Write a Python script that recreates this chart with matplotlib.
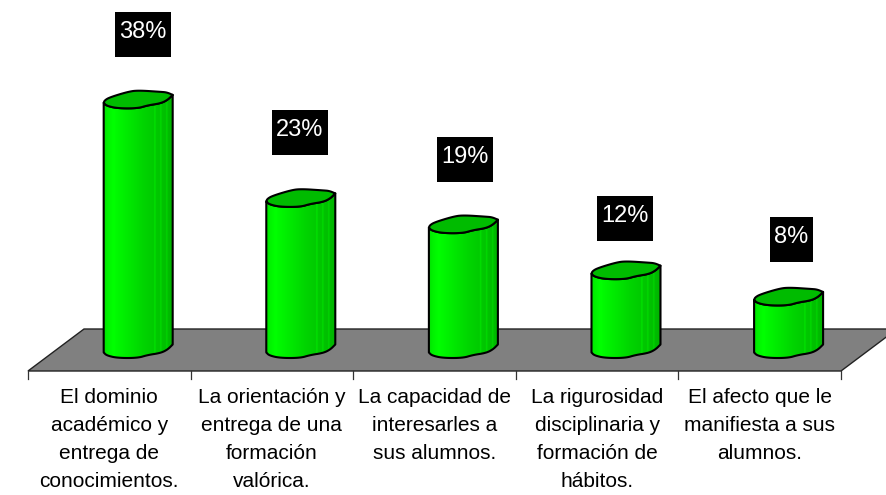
import numpy as np
import matplotlib
matplotlib.use("Agg")
import matplotlib.pyplot as plt
from matplotlib.patches import Polygon, Rectangle

categories = [
    "El dominio\nacadémico y\nentrega de\nconocimientos.",
    "La orientación y\nentrega de una\nformación\nvalórica.",
    "La capacidad de\ninteresarles a\nsus alumnos.",
    "La rigurosidad\ndisciplinaria y\nformación de\nhábitos.",
    "El afecto que le\nmanifiesta a sus\nalumnos.",
]
values = [38, 23, 19, 12, 8]
value_labels = ["38%", "23%", "19%", "12%", "8%"]

W, H = 887, 495
X0, SX = 28.0, 162.6     # pixel position of category 0 edge, px per category
Y0, SY = 352.5, 6.57     # pixel position of value 0, px per percent


def dx(px):
    return px / SX


def dy(px):
    return px / SY


def smooth(x, y, n=3):
    """Corner-cutting so the hand-read outline becomes a soft curve."""
    pts = np.c_[x, y]
    for _ in range(n):
        a, b = pts[:-1], pts[1:]
        mid = np.empty((2 * len(a), 2))
        mid[0::2] = 0.75 * a + 0.25 * b
        mid[1::2] = 0.25 * a + 0.75 * b
        pts = np.vstack([pts[:1], mid, pts[-1:]])
    return pts[:, 0], pts[:, 1]


plt.rcParams["font.family"] = ["Liberation Sans", "DejaVu Sans"]
fig = plt.figure(figsize=(W / 100, H / 100), dpi=100)
ax = fig.add_axes([0, 0, 1, 1])
ax.axis("off")
xlim = ((0 - X0) / SX, (W - X0) / SX)
ylim = ((Y0 - H) / SY, Y0 / SY)

# floor of the 3-D plot
floor_front, floor_back = dy(Y0 - 371), dy(Y0 - 329)
depth = dx(56)
ax.add_patch(Polygon([(0, floor_front), (5, floor_front), (5 + depth, floor_back),
                      (depth, floor_back)], closed=True, fc="#808080", ec="#222222",
                     lw=1.0, zorder=1))
for i in range(6):
    ax.plot([i, i], [floor_front, floor_front - dy(8)], color="#333333", lw=0.9, zorder=1)

# outline of the cylinders, pixel offsets from the left edge of the cap
lower_x, lower_y = smooth(np.array([0, 3, 14, 34, 44, 57, 64, 69.0]),
                          np.array([0, 3, 5.5, 5.5, 2.5, 0.5, -3, -8.0]))
upper_x, upper_y = smooth(np.array([69, 63, 57, 34, 24, 6, 1, 0.0]),
                          np.array([-8, -10.5, -11, -12.5, -11, -5.5, -2.5, 0.0]))

col_px = np.array([0, 3, 9, 12, 25, 40, 52, 62, 69.0])
col_g = np.array([225, 240, 255, 250, 232, 212, 200, 190, 180.0])
tt = np.linspace(0, 69, 139)
gg = np.interp(tt, col_px, col_g)
for stripe in (10, 51, 57, 63):
    gg[np.abs(tt - stripe) < 0.6] += 22
grad = np.zeros((1, tt.size, 3))
grad[0, :, 1] = np.clip(gg, 0, 255) / 255

for i, v in enumerate(values):
    left = i + 0.4655
    xs = left + dx(lower_x)
    body_x = np.r_[xs[0], xs, xs[::-1]]
    body_y = np.r_[v, v - dy(lower_y), -dy(lower_y[::-1])]
    body = Polygon(np.c_[body_x, body_y], closed=True, fc="none", ec="black", lw=1.5,
                   joinstyle="round", zorder=4)
    ax.add_patch(body)
    im = ax.imshow(grad, extent=(left, left + dx(69), -dy(8), v + dy(14)),
                   aspect="auto", zorder=3, interpolation="bilinear")
    im.set_clip_path(body)
    cap_x = left + dx(np.r_[lower_x, upper_x])
    cap_y = v - dy(np.r_[lower_y, upper_y])
    ax.add_patch(Polygon(np.c_[cap_x, cap_y], closed=True, fc="#00bb00", ec="black",
                         lw=1.5, joinstyle="round", zorder=5))

# value labels, positioned from the top of each bar
label_x = [143, 300, 465, 625, 791.5]
label_off = [68.3, 68.9, 68.2, 55.2, 60.5]
box_w = [56, 56, 56, 56, 43]
box_h = 45
for i, (v, t) in enumerate(zip(values, value_labels)):
    cx = (label_x[i] - X0) / SX
    cy = v + dy(label_off[i])
    ax.add_patch(Rectangle((cx - dx(box_w[i]) / 2, cy - dy(box_h) / 2), dx(box_w[i]),
                           dy(box_h), fc="black", ec="none", zorder=6))
    ax.text(cx, cy + dy(2.5), t, color="white", fontsize=17, ha="center", va="center",
            zorder=7)

for i, c in enumerate(categories):
    ax.text(i + 0.5, dy(Y0 - 388), c, fontsize=15, ha="center", va="top",
            linespacing=1.59, color="black", zorder=6)

ax.set_xlim(*xlim)
ax.set_ylim(*ylim)
fig.savefig("out.png", dpi=100, facecolor="white")
